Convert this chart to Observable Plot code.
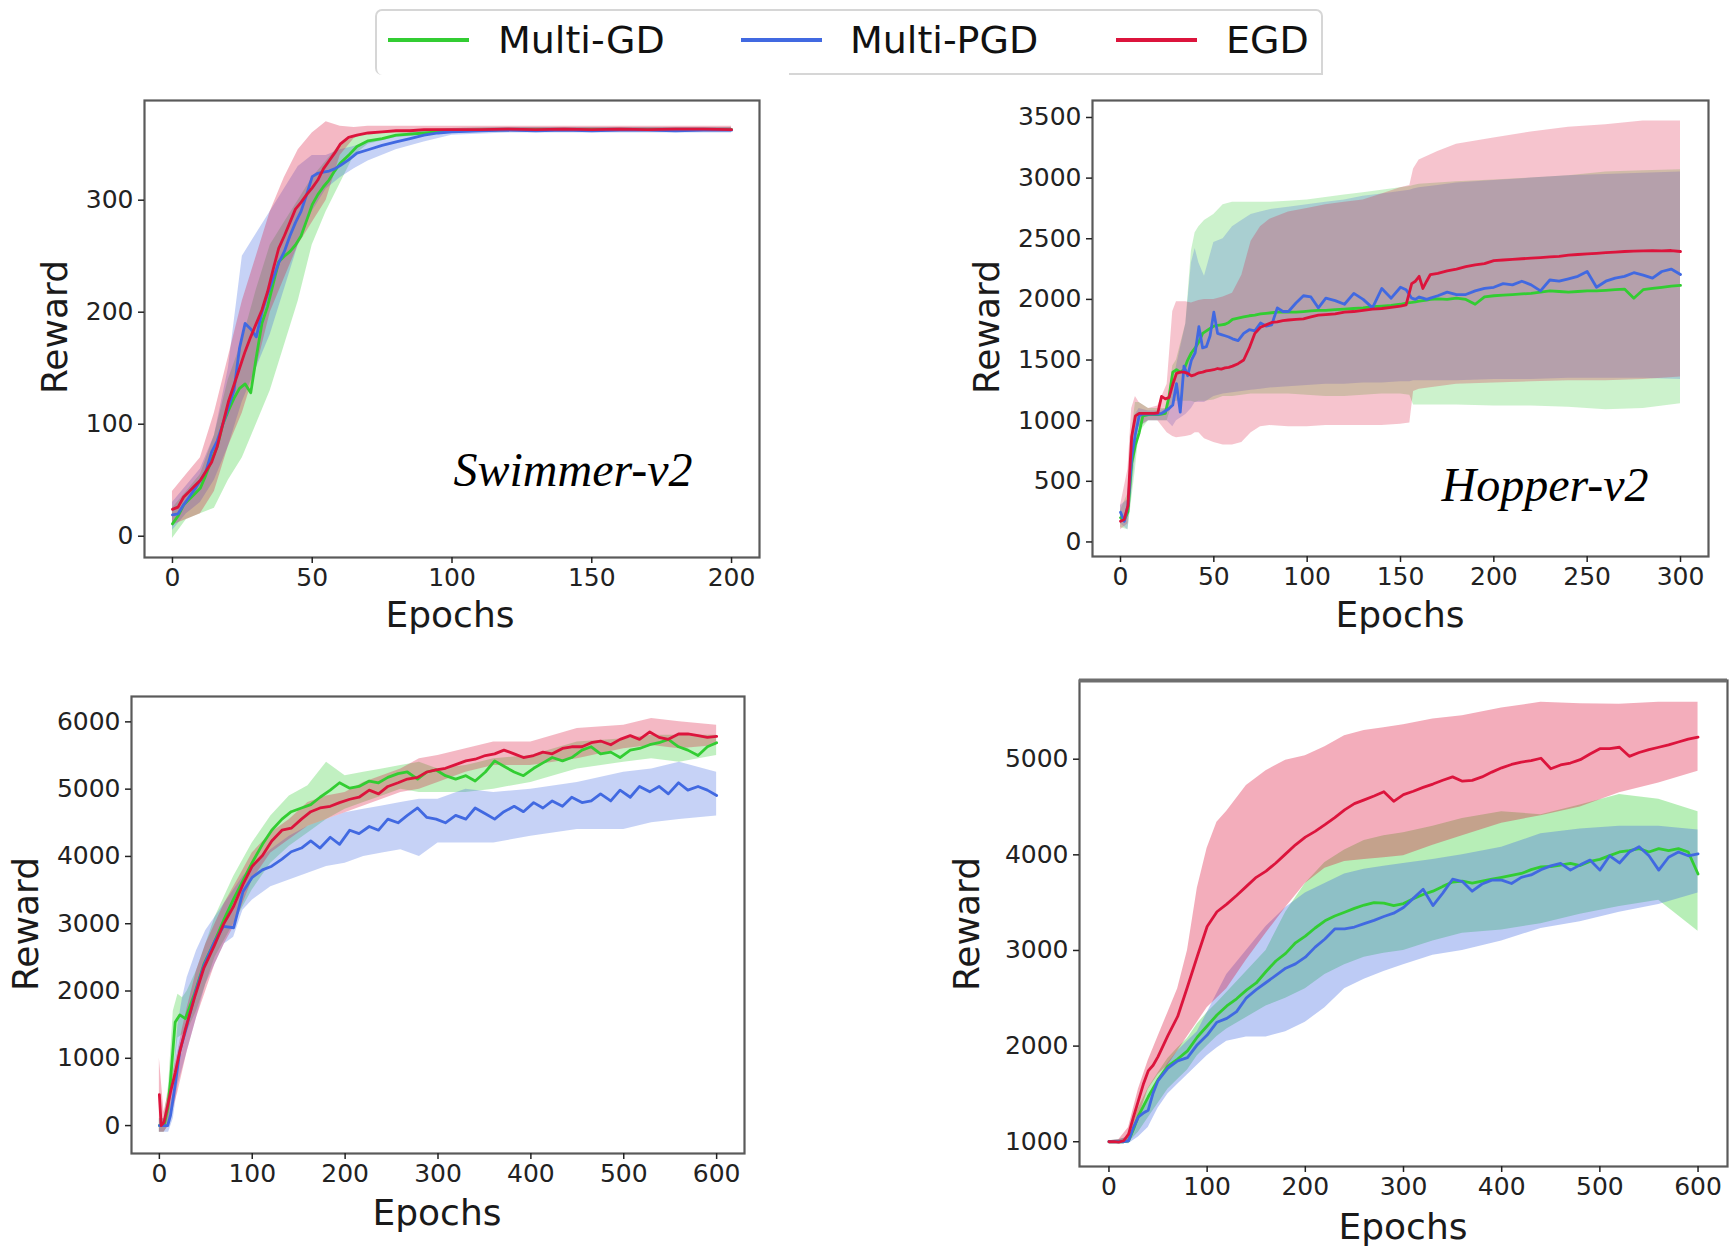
<!DOCTYPE html>
<html>
<head>
<meta charset="utf-8">
<script src="https://cdn.jsdelivr.net/npm/d3@7"></script>
<script src="https://cdn.jsdelivr.net/npm/@observablehq/plot@0.6"></script>
<style>
  html, body { margin: 0; padding: 0; background: #fff; }
  body { width: 1729px; height: 1249px; position: relative; overflow: hidden; font-family: "DejaVu Sans", sans-serif; color: #1a1a1a; }
  .panel { position: absolute; }
  .lbl { position: absolute; font-family: "DejaVu Sans", sans-serif; font-size: 36px; line-height: 1; white-space: nowrap; transform: translate(-50%, -50%); color: #1a1a1a; }
  .lbl.rot { transform: translate(-50%, -50%) rotate(-90deg); }
  .env { position: absolute; font-family: "Liberation Serif", serif; font-style: italic; font-size: 48px; line-height: 1; white-space: nowrap; transform: translate(-50%, -50%); color: #000; }
  #legend { position: absolute; left: 375px; top: 9px; width: 948px; height: 66px; border: 2px solid #d6d6d6; border-bottom: none; border-radius: 7px 7px 0 7px; box-sizing: border-box; }
  #legendBottom { position: absolute; left: 789px; top: 73px; width: 534px; height: 2px; background: #d6d6d6; border-radius: 0 0 7px 0; }
  .legLine { position: absolute; height: 4px; top: 38px; }
  .legText { position: absolute; top: 40px; font-size: 38px; line-height: 1; transform: translateY(-50%); white-space: nowrap; color: #111; }
</style>
</head>
<body>
<div id="legend"></div>
<div id="legendBottom"></div>
<script>
// ---------------- Data ----------------
const methods = ["Multi-GD", "Multi-PGD", "EGD"];
const colors = ["#32cd32", "#4169e1", "#dc143c"];

// Swimmer-v2
const swEpochs = [0,2,4,6,8,10,12,14,16,18,20,22,24,26,28,30,32,34,36,38,40,42,44,46,48,50,52,54,56,58,60,63,66,70,75,80,85,90,95,100,110,120,130,140,150,160,170,180,190,200];
const swGD  = [11,18,28,33,38,43,55,68,80,100,112,123,132,136,128,160,190,205,225,245,250,254,260,268,282,296,305,312,318,326,333,340,348,353,355,358,359,360,361,362,362.5,363,363,363,363,363,363,363,363,363];
const swPGD = [19,20,28,35,42,50,58,75,85,100,115,130,168,190,185,178,200,216,230,244,254,268,280,290,305,321,324,325,326,328,331,336,342,345,349,352,355,358,360,361,362,362.5,362,362.5,362,362.5,362.5,362,362.5,362.5];
const swEGD = [24,26,35,40,45,50,58,66,80,100,120,135,150,165,178,190,202,218,238,257,268,280,292,298,305,311,318,328,335,342,350,356,358,360,361,362,362,363,363,363,363,363.5,363,363.5,363,363.5,363,363.5,363.5,363];
const swBandEpochs = [0,5,10,15,20,25,30,35,40,45,50,55,60,65,70,80,90,100,120,150,200];
const swGDlo  = [-2,15,20,25,50,70,100,130,170,210,260,290,315,340,350,356,358,360,361,361,361];
const swGDhi  = [25,40,55,90,140,175,220,260,280,300,320,335,350,356,360,362,363,364,365,365,365];
const swPGDlo = [5,20,30,50,80,120,150,180,220,260,290,310,320,328,335,345,352,358,360,360,360];
const swPGDhi = [30,45,60,90,150,250,270,290,310,330,340,340,345,348,352,358,362,364,365,365,365];
const swEGDlo = [10,15,20,40,80,110,150,200,230,260,280,300,340,355,360,361,361,361,361,361,361];
const swEGDhi = [40,55,70,110,160,210,250,290,320,345,360,370,366,365,366,366,366,366,366,366,366];
const swXTicks = [0,50,100,150,200];
const swYTicks = [0,100,200,300];

// Hopper-v2
const hpEpochs = [0,2,4,5,6,8,10,12,15,18,20,22,24,26,28,30,32,34,36,38,40,42,44,46,48,50,52,54,56,58,60,63,66,69,72,75,78,81,84,87,90,94,98,102,106,110,115,120,125,130,135,140,145,150,153,156,158,160,162,164,166,170,175,180,185,190,195,200,205,210,215,220,225,230,235,240,245,250,255,260,265,270,275,280,285,290,295,300];
const hpGD  = [200,180,250,450,650,800,900,1040,1050,1050,1050,1055,1060,1200,1400,1420,1400,1420,1500,1560,1600,1650,1720,1740,1760,1780,1785,1790,1795,1810,1835,1845,1855,1865,1870,1880,1885,1890,1895,1895,1895,1895,1900,1905,1910,1910,1915,1920,1925,1930,1940,1945,1950,1960,1970,1975,1980,1985,1990,1995,2000,2005,2000,2010,2000,1960,2020,2030,2035,2040,2045,2050,2060,2070,2065,2060,2065,2070,2070,2075,2080,2085,2010,2080,2090,2100,2110,2115];
const hpPGD = [245,170,300,500,700,890,1040,1055,1055,1055,1055,1060,1080,1100,1130,1305,1070,1450,1370,1500,1560,1775,1600,1610,1700,1895,1720,1710,1700,1690,1675,1660,1720,1750,1740,1805,1780,1790,1930,1900,1900,1970,2030,2020,1930,2010,1990,1960,2050,2000,1930,2090,2010,2100,2080,2010,2000,2020,2010,2000,2010,2030,2060,2040,2040,2070,2090,2100,2130,2120,2150,2120,2070,2160,2150,2170,2190,2230,2100,2150,2175,2190,2220,2200,2175,2230,2250,2205];
const hpEGD = [171,186,300,600,870,1040,1060,1060,1060,1060,1065,1200,1180,1190,1300,1390,1400,1400,1390,1370,1380,1395,1400,1410,1415,1420,1430,1425,1435,1440,1450,1470,1500,1600,1720,1770,1790,1810,1815,1825,1830,1835,1840,1855,1870,1875,1880,1895,1900,1910,1920,1925,1935,1945,1955,2130,2150,2190,2090,2150,2205,2215,2235,2250,2270,2285,2295,2320,2325,2330,2335,2340,2345,2350,2355,2365,2370,2375,2380,2385,2390,2395,2398,2400,2402,2400,2403,2395];
const hpBandEpochs = [0,4,6,8,10,15,20,25,28,30,35,38,40,42,45,50,55,60,65,70,75,80,90,100,110,120,130,140,150,155,157,160,170,180,200,220,240,260,280,300];
const hpGDlo  = [120,100,350,600,900,1000,1000,1000,1150,1160,1160,1160,1150,1160,1160,1170,1200,1200,1210,1220,1220,1220,1220,1210,1200,1200,1210,1220,1220,1210,1130,1130,1130,1130,1120,1120,1110,1090,1100,1140];
const hpGDhi  = [260,400,900,1150,1150,1100,1100,1100,1450,1500,1800,2400,2550,2600,2650,2700,2780,2800,2800,2800,2800,2800,2810,2820,2840,2860,2880,2900,2920,2930,2940,2950,2960,2970,2985,3000,3020,3050,3060,3070];
const hpPGDlo = [150,100,400,700,950,1000,1000,1000,950,1000,1050,1100,1150,1150,1150,1200,1220,1230,1240,1250,1260,1270,1280,1290,1300,1300,1310,1310,1320,1320,1330,1330,1330,1330,1340,1340,1350,1350,1350,1340];
const hpPGDhi = [300,350,800,1050,1100,1080,1080,1100,1300,1450,1800,2300,2420,2300,2190,2470,2500,2600,2650,2700,2720,2740,2760,2780,2800,2820,2850,2870,2890,2900,2910,2920,2940,2960,2980,3000,3020,3030,3040,3050];
const hpEGDlo = [100,150,700,900,950,1000,1000,900,870,860,870,880,900,900,850,820,800,800,820,900,950,960,950,950,960,960,960,960,970,980,1240,1260,1280,1300,1310,1320,1330,1330,1340,1360];
const hpEGDhi = [300,600,1100,1200,1150,1100,1120,1300,1900,1980,1980,1970,1980,1990,2000,2000,2020,2050,2200,2480,2600,2660,2720,2750,2780,2800,2820,2870,2920,2940,3075,3150,3220,3280,3330,3380,3420,3440,3470,3470];
const hpXTicks = [0,50,100,150,200,250,300];
const hpYTicks = [0,500,1000,1500,2000,2500,3000,3500];

// Bottom-left panel
const wkEpochs = [0,2,5,9,12,17,22,28,38,48,59,69,80,90,100,111,121,132,142,153,163,173,184,194,205,215,226,236,246,257,267,278,288,298,308,319,330,340,351,361,371,382,392,403,413,423,434,444,455,465,475,486,496,507,517,528,538,548,559,569,580,590,600];
const wkGD  = [0,0,0,250,670,1535,1645,1590,1965,2400,2720,3045,3370,3640,3910,4180,4390,4555,4665,4720,4770,4880,4985,5095,5015,5040,5120,5095,5175,5230,5255,5150,5255,5285,5200,5150,5200,5120,5255,5420,5340,5255,5200,5310,5390,5470,5420,5470,5580,5630,5525,5550,5470,5580,5605,5660,5690,5740,5630,5580,5500,5630,5690];
const wkPGD = [0,0,0,0,150,600,1110,1400,1940,2380,2720,2960,2940,3475,3690,3800,3855,3960,4070,4125,4230,4125,4285,4180,4390,4340,4445,4390,4555,4500,4610,4720,4580,4555,4500,4610,4555,4720,4635,4555,4665,4745,4665,4800,4720,4825,4745,4880,4800,4825,4930,4825,4985,4880,5040,4960,5040,4930,5095,4985,5040,4985,4905];
const wkEGD = [460,0,50,300,500,780,1100,1430,1910,2345,2670,2990,3260,3585,3855,4015,4230,4390,4420,4555,4665,4720,4745,4800,4850,4880,4985,4930,5040,5095,5150,5175,5255,5285,5310,5365,5420,5445,5500,5525,5580,5525,5470,5500,5550,5525,5605,5630,5630,5690,5715,5660,5740,5795,5740,5850,5770,5740,5820,5820,5795,5770,5785];
const wkBandEpochs = [0,5,10,15,20,25,30,40,50,60,70,80,90,100,120,140,160,180,200,220,240,260,280,300,330,360,400,450,500,530,560,600];
const wkGDlo  = [-100,-100,0,700,1300,1350,1400,1700,2100,2500,2750,3000,3250,3500,3900,4150,4350,4550,4700,4800,4900,5000,4950,4950,4950,5000,5100,5300,5400,5450,5400,5500];
const wkGDhi  = [100,100,600,1700,1950,1900,2000,2300,2700,3100,3400,3700,3950,4200,4600,4900,5050,5400,5200,5250,5300,5350,5400,5300,5350,5450,5500,5700,5750,5800,5800,5800];
const wkPGDlo = [-100,-100,-100,100,600,850,1100,1600,2100,2400,2700,2800,3200,3350,3550,3650,3750,3850,3900,4000,4050,4100,4000,4200,4200,4200,4300,4400,4400,4500,4550,4600];
const wkPGDhi = [100,100,200,700,1500,1900,2200,2600,2900,3100,3300,3500,3700,3850,4100,4300,4450,4550,4650,4700,4750,4800,4850,4850,5000,4950,5000,5100,5250,5300,5400,5250];
const wkEGDlo = [-100,-100,0,250,500,800,1100,1600,2000,2400,2700,2950,3300,3650,4050,4250,4450,4550,4650,4750,4850,4950,5000,5100,5250,5350,5350,5450,5600,5650,5600,5650];
const wkEGDhi = [1000,200,500,800,1100,1450,1750,2300,2700,3000,3300,3550,3800,4050,4350,4550,4800,4900,4950,5100,5200,5300,5450,5500,5600,5700,5700,5900,5950,6050,6000,5950];
const wkXTicks = [0,100,200,300,400,500,600];
const wkYTicks = [0,1000,2000,3000,4000,5000,6000];

// Bottom-right panel
const hcEpochs = [0,5,10,15,20,25,30,35,40,45,50,60,70,80,90,100,110,120,130,140,150,160,170,180,190,200,210,220,230,240,250,260,270,280,290,300,310,320,330,340,350,360,370,380,390,400,410,420,430,440,450,460,470,480,490,500,510,520,530,540,550,560,570,580,590,600];
const hcGD  = [1000,1000,1000,1000,1010,1130,1270,1370,1470,1560,1650,1790,1865,1950,2095,2210,2325,2420,2495,2585,2660,2780,2890,2970,3080,3150,3235,3310,3360,3400,3440,3475,3500,3495,3470,3490,3540,3585,3620,3670,3715,3725,3705,3725,3745,3765,3785,3805,3845,3875,3878,3893,3910,3888,3932,3952,3992,4030,4045,4065,4030,4065,4045,4065,4030,3800];
const hcPGD = [1000,1000,1000,1000,1010,1150,1260,1300,1330,1510,1640,1770,1845,1880,2015,2115,2250,2290,2360,2505,2590,2665,2740,2815,2860,2930,3035,3120,3225,3225,3245,3280,3315,3355,3390,3450,3545,3640,3470,3600,3745,3720,3620,3695,3735,3735,3700,3765,3790,3845,3885,3910,3840,3895,3945,3840,3990,3915,4030,4085,3990,3840,3975,4030,3990,4010];
const hcEGD = [1000,1000,995,1010,1080,1260,1430,1600,1740,1800,1890,2110,2310,2620,2940,3250,3405,3485,3575,3670,3765,3830,3915,4010,4105,4185,4245,4315,4390,4470,4535,4575,4615,4660,4560,4630,4665,4705,4740,4780,4815,4770,4778,4815,4865,4910,4945,4970,4985,5010,4900,4940,4960,4995,5055,5110,5110,5125,5030,5070,5100,5125,5150,5180,5210,5230];
const hcBandEpochs = [0,10,20,30,40,50,60,70,80,90,100,110,120,140,160,180,200,220,240,260,280,300,330,360,400,440,480,520,560,600];
const hcGDlo  = [990,990,990,1100,1250,1400,1550,1650,1750,1900,2000,2100,2180,2300,2420,2500,2600,2750,2850,2930,2970,3000,3100,3180,3215,3280,3380,3460,3525,3200];
const hcGDhi  = [1010,1020,1050,1350,1560,1720,1870,1980,2080,2230,2350,2450,2560,2780,3000,3400,3700,3920,4050,4150,4200,4230,4300,4380,4450,4420,4520,4630,4580,4450];
const hcPGDlo = [990,990,980,1050,1150,1350,1500,1600,1700,1800,1900,1980,2050,2095,2095,2150,2250,2400,2600,2700,2780,2850,2950,3000,3100,3230,3300,3400,3480,3600];
const hcPGDhi = [1010,1020,1050,1250,1450,1650,1820,1950,2050,2150,2350,2550,2750,3000,3250,3450,3600,3700,3800,3850,3880,3910,3950,4000,4080,4220,4270,4300,4300,4260];
const hcEGDlo = [990,980,1000,1250,1550,1700,1800,1950,2100,2250,2400,2500,2600,2900,3180,3450,3700,3860,3930,3950,3970,3990,4100,4200,4330,4410,4500,4650,4750,4875];
const hcEGDhi = [1010,1020,1150,1550,1850,2100,2350,2600,3000,3650,4070,4340,4455,4725,4880,4990,5035,5130,5245,5300,5330,5360,5420,5455,5535,5595,5580,5575,5595,5595];
const hcXTicks = [0,100,200,300,400,500,600];
const hcYTicks = [1000,2000,3000,4000,5000];

// ---------------- Helpers ----------------
function lineRows(epochs, values) { return epochs.map((e, i) => ({epoch: e, value: values[i]})); }
function bandRows(epochs, lo, hi) { return epochs.map((e, i) => ({epoch: e, lo: lo[i], hi: hi[i]})); }

function addDiv(cls, text, x, y) {
  const d = document.createElement("div");
  d.className = cls; d.textContent = text;
  d.style.left = x + "px"; d.style.top = y + "px";
  document.body.appendChild(d);
  return d;
}

function makePanel(cfg) {
  const bands = methods.map((m, i) => Plot.areaY(bandRows(cfg.bandEpochs, cfg.lo[i], cfg.hi[i]), {
    x: "epoch", y1: "lo", y2: "hi", fill: colors[i], fillOpacity: cfg.opacity
  }));
  const lines = methods.map((m, i) => Plot.lineY(lineRows(cfg.epochs, cfg.mean[i]), {
    x: "epoch", y: "value", stroke: colors[i], strokeWidth: 2.8, strokeLinejoin: "round"
  }));
  const marks = [
    ...bands,
    ...lines,
    Plot.frame({stroke: "#5a5a5a", strokeWidth: 2.2}),
    Plot.axisX({ticks: cfg.xTicks, tickSize: 6, tickPadding: 5, fontSize: 25, tickFormat: d => String(d), label: null, strokeWidth: 1.5}),
    Plot.axisY({ticks: cfg.yTicks, tickSize: 6, tickPadding: 5, fontSize: 25, tickFormat: d => String(d), label: null, strokeWidth: 1.5})
  ];
  if (cfg.thickTop) marks.push(Plot.ruleY([cfg.yDomain[1]], {stroke: "#6e6e6e", strokeWidth: 4}));
  const svg = Plot.plot({
    width: cfg.width, height: cfg.height,
    marginLeft: cfg.ml, marginRight: cfg.mr, marginTop: cfg.mt, marginBottom: cfg.mb,
    x: {domain: cfg.xDomain},
    y: {domain: cfg.yDomain},
    style: {fontFamily: "DejaVu Sans", fontSize: "25px", color: "#222", background: "transparent", overflow: "visible"},
    marks
  });
  const wrap = document.createElement("div");
  wrap.className = "panel";
  wrap.style.left = cfg.left + "px"; wrap.style.top = cfg.top + "px";
  wrap.appendChild(svg);
  document.body.appendChild(wrap);
}

// ---------------- Panels ----------------
makePanel({
  left: 60, top: 90, width: 720, height: 510, ml: 84, mr: 21, mt: 10, mb: 43,
  xDomain: [-10, 210], yDomain: [-19, 389], xTicks: swXTicks, yTicks: swYTicks,
  epochs: swEpochs, mean: [swGD, swPGD, swEGD],
  bandEpochs: swBandEpochs, lo: [swGDlo, swPGDlo, swEGDlo], hi: [swGDhi, swPGDhi, swEGDhi], opacity: 0.3
});
makePanel({
  left: 1000, top: 90, width: 729, height: 510, ml: 92, mr: 21, mt: 10, mb: 44,
  xDomain: [-15, 315], yDomain: [-120, 3640], xTicks: hpXTicks, yTicks: hpYTicks,
  epochs: hpEpochs, mean: [hpGD, hpPGD, hpEGD],
  bandEpochs: hpBandEpochs, lo: [hpGDlo, hpPGDlo, hpEGDlo], hi: [hpGDhi, hpPGDhi, hpEGDhi], opacity: 0.25
});
makePanel({
  left: 40, top: 680, width: 740, height: 520, ml: 91, mr: 36, mt: 16, mb: 47,
  xDomain: [-30, 630], yDomain: [-415, 6377], xTicks: wkXTicks, yTicks: wkYTicks,
  epochs: wkEpochs, mean: [wkGD, wkPGD, wkEGD],
  bandEpochs: wkBandEpochs, lo: [wkGDlo, wkPGDlo, wkEGDlo], hi: [wkGDhi, wkPGDhi, wkEGDhi], opacity: 0.3
});
makePanel({
  left: 990, top: 665, width: 739, height: 545, ml: 89, mr: 2, mt: 15, mb: 44,
  xDomain: [-30, 630], yDomain: [741, 5823], xTicks: hcXTicks, yTicks: hcYTicks,
  epochs: hcEpochs, mean: [hcGD, hcPGD, hcEGD],
  bandEpochs: hcBandEpochs, lo: [hcGDlo, hcPGDlo, hcEGDlo], hi: [hcGDhi, hcPGDhi, hcEGDhi], opacity: 0.35,
  thickTop: true
});

// ---------------- Axis titles & annotations ----------------
addDiv("lbl rot", "Reward", 55, 327);
addDiv("lbl", "Epochs", 450, 615);
addDiv("lbl rot", "Reward", 987, 327);
addDiv("lbl", "Epochs", 1400, 615);
addDiv("lbl rot", "Reward", 26, 924);
addDiv("lbl", "Epochs", 437, 1213);
addDiv("lbl rot", "Reward", 967, 924);
addDiv("lbl", "Epochs", 1403, 1227);
addDiv("env", "Swimmer-v2", 573, 470);
addDiv("env", "Hopper-v2", 1545, 485);

// ---------------- Legend ----------------
const legLineX = [388, 741, 1116];
const legTextX = [498, 850, 1226];
methods.forEach((m, i) => {
  const l = document.createElement("div");
  l.className = "legLine";
  l.style.left = legLineX[i] + "px"; l.style.width = "81px"; l.style.background = colors[i];
  document.body.appendChild(l);
  const t = document.createElement("div");
  t.className = "legText"; t.textContent = m;
  t.style.left = legTextX[i] + "px";
  document.body.appendChild(t);
});
</script>
</body>
</html>
